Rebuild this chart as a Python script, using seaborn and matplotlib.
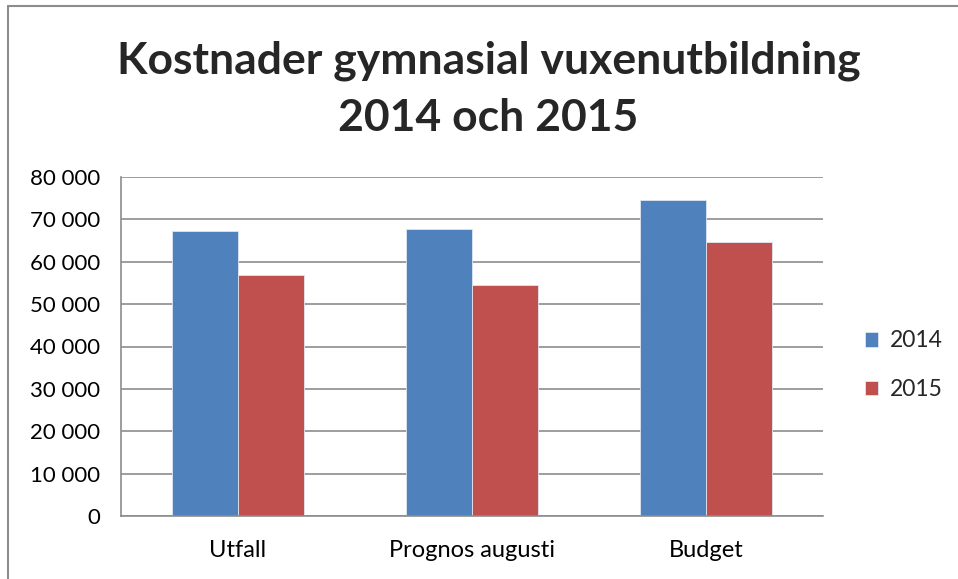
import pandas as pd
import numpy as np
import matplotlib
matplotlib.use("Agg")
import matplotlib.pyplot as plt
import matplotlib.ticker as mticker
from matplotlib.lines import Line2D
import seaborn as sns

# data
categories = ["Utfall", "Prognos augusti", "Budget"]
years = ["2014", "2015"]
values_2014 = [67300, 67800, 74500]
values_2015 = [56900, 54600, 64600]
colors = ["#4F81BD", "#C0504D"]

df = pd.DataFrame({
    "Kategori": categories * 2,
    "År": [years[0]] * 3 + [years[1]] * 3,
    "Kostnad": values_2014 + values_2015,
})

sns.set_style("white")
plt.rcParams["font.family"] = ["Lato", "DejaVu Sans"]

fig = plt.figure(figsize=(9.58, 5.79), dpi=100)
ax = fig.add_axes([121 / 958, 63 / 579, 702 / 958, 339 / 579])

sns.barplot(data=df, x="Kategori", y="Kostnad", hue="År", palette=colors,
            width=0.564, gap=0, saturation=1, ax=ax, legend=True,
            edgecolor="#dfe7f2", linewidth=0.6)

ax.set_ylim(0, 80000)
ax.set_xlim(-0.5, 2.5)
ax.set_yticks(np.arange(0, 80001, 10000))
ax.yaxis.set_major_formatter(
    mticker.FuncFormatter(lambda v, p: f"{int(v):,}".replace(",", " ")))
ax.grid(axis="y", color="#8c8c8c", linewidth=1.2)
ax.set_axisbelow(True)
ax.set_xlabel("")
ax.set_ylabel("")
ax.tick_params(axis="y", length=0, labelsize=16, colors="black", pad=15)
ax.tick_params(axis="x", length=0, labelsize=17, colors="black", pad=17)
for side in ["top", "right"]:
    ax.spines[side].set_visible(False)
for side in ["left", "bottom"]:
    ax.spines[side].set_color("#8c8c8c")
    ax.spines[side].set_linewidth(1.2)

ax.legend(loc="center left", bbox_to_anchor=(1.03, 0.445), frameon=False,
          fontsize=16.5, handlelength=0.6, handleheight=0.6,
          handletextpad=0.5, labelspacing=1.2)

fig.text(0.51, 0.846, "Kostnader gymnasial vuxenutbildning\n2014 och 2015",
         ha="center", va="center", fontsize=32, fontweight="bold",
         linespacing=1.52)

# outer frame (only top and left edges visible in the reference)
fig.add_artist(Line2D([8 / 958, 8 / 958], [0, 1 - 6 / 579],
                      transform=fig.transFigure, color="#8c8c8c", lw=1.5))
fig.add_artist(Line2D([8 / 958, 1], [1 - 6 / 579, 1 - 6 / 579],
                      transform=fig.transFigure, color="#8c8c8c", lw=1.5))

fig.savefig("out.png", dpi=100)
